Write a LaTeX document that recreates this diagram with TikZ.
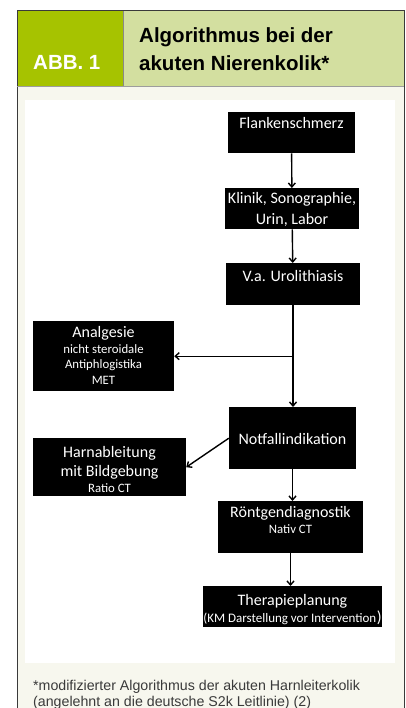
\documentclass[tikz,border=0pt]{standalone}
\usepackage{fontspec}
\setmainfont{Carlito}
\newfontfamily\headfont{Liberation Sans}
\newfontfamily\notefont{Liberation Sans}
\usetikzlibrary{arrows.meta}
\definecolor{abbgreen}{HTML}{A6C300}
\definecolor{titlegreen}{HTML}{D3DFA0}
\definecolor{panelcream}{HTML}{F7F7EE}
\definecolor{framegray}{HTML}{3A3A3A}
\newcommand{\bigtx}{\fontsize{16}{16}\selectfont}
\newcommand{\smtx}{\fontsize{12.8}{15.5}\selectfont}
\begin{document}
\begin{tikzpicture}[x=1pt,y=-1pt,
	box/.style={fill=black,text=white,align=center,inner sep=0pt,anchor=north,font=\bigtx},
	headtx/.style={anchor=base west,inner sep=0pt,font=\headfont\bfseries\fontsize{20.5}{24}\selectfont},
	notetx/.style={anchor=base west,inner sep=0pt,text=framegray,font=\notefont\fontsize{14.2}{17}\selectfont},
	arr/.style={-{Straight Barb[length=4pt,width=7pt]},line width=1.4pt}]
		\useasboundingbox (0,0) rectangle (406,708);
		\clip (0,0) rectangle (406,708);
		
		\fill [panelcream] (17,86) rectangle (404,708);
		\fill [white] (25,100) rectangle (395,663);
		\fill [abbgreen] (17,11) rectangle (123,86);
		\fill [titlegreen] (123,11) rectangle (404,86);
		\draw [framegray,line width=1pt] (17,708) -- (17,11) -- (404,11) -- (404,708);
		\draw [framegray!60,line width=0.6pt] (123,11) -- (123,86);
		\draw [framegray!50,line width=0.6pt] (17,86) -- (404,86);
		
		\node [headtx,text=white] (abb) at (33,70) {ABB. 1};
		\node [headtx] (title1) at (139,43) {Algorithmus bei der};
		\node [headtx] (title2) at (139,71) {akuten Nierenkolik*};
		
		\node [box,minimum width=127,text height=16pt,text depth=25pt] (flank) at (291.5,112) {Flankenschmerz};
		\node [box,minimum width=134,text height=36pt,text depth=5pt] (klinik) at (292,188) {Klinik, Sonographie,\\[5pt]Urin, Labor};
		\node [box,minimum width=134,text height=18pt,text depth=24pt] (uro) at (293,263) {V.a. Urolithiasis};
		\node [box,minimum width=141,text height=63pt,text depth=7pt] (analg) at (103.5,321) {Analgesie\\{\smtx nicht steroidale}\\[-0.5pt]{\smtx Antiphlogistika}\\[-0.5pt]{\smtx MET}};
		\node [box,minimum width=127,text height=37pt,text depth=25pt] (notfall) at (292.5,407) {Notfallindikation};
		\node [box,minimum width=153,text height=54pt,text depth=4pt] (harn) at (109.5,438) {Harnableitung\\[3pt]mit Bildgebung\\{\smtx Ratio CT}};
		\node [box,minimum width=145,text height=32pt,text depth=20pt] (roent) at (290.5,501) {R\"ontgendiagnostik\\{\smtx Nativ CT}};
		\node [box,minimum width=179,text height=36pt,text depth=5pt] (thera) at (292.5,586) {Therapieplanung\\[1pt]{\fontsize{13}{15.5}\selectfont(KM Darstellung vor Intervention}\kern0.5pt)};
		
		\draw [arr] (flank) -- (klinik);
		\draw [arr] (klinik) -- (uro);
		\draw [arr] (uro.south) -- (uro.south |- notfall.north);
		\draw [arr] (uro.south |- analg.east) -- (analg.east);
		\draw [arr] (notfall.west) -- (harn.east);
		\draw [arr] (notfall.south) -- (notfall.south |- roent.north);
		\draw [arr] (roent.south) -- (roent.south |- thera.north);
		
		\node [notetx] (note1) at (33,690) {*modifizierter Algorithmus der akuten Harnleiterkolik};
		\node [notetx] (note2) at (33,706) {(angelehnt an die deutsche S2k Leitlinie) (2)};
	\end{tikzpicture}
\end{document}
